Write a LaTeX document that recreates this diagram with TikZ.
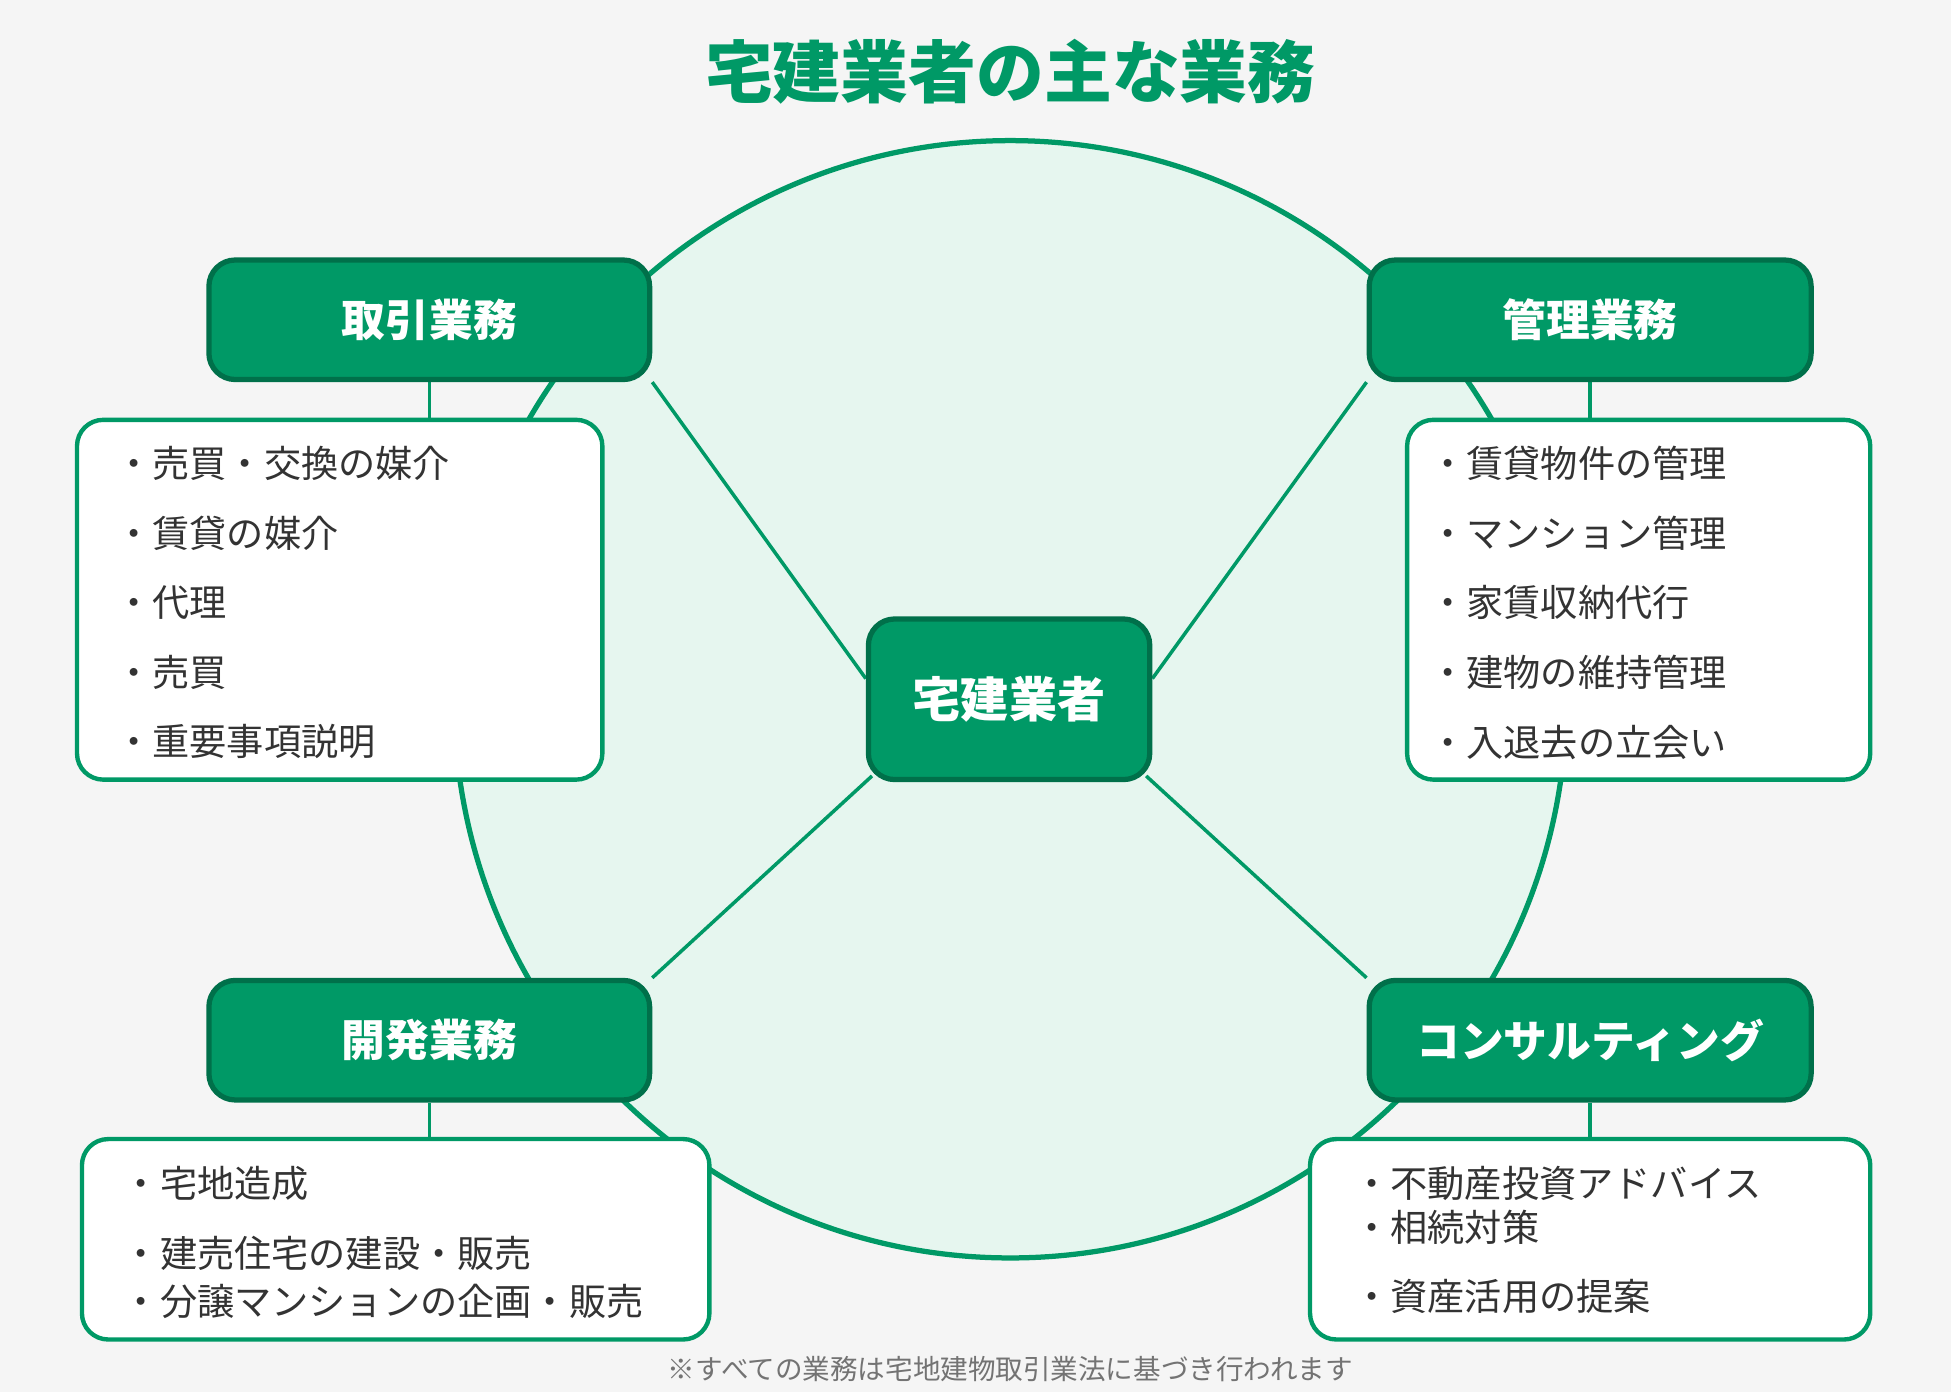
\documentclass[tikz,border=0pt]{standalone}
\usepackage{fontspec}
\setmainfont{Noto Sans CJK JP}
\usetikzlibrary{positioning,backgrounds}
\definecolor{kgreen}{HTML}{009966}
\definecolor{kdark}{HTML}{00704A}
\definecolor{kpale}{HTML}{E6F6EF}
\definecolor{kback}{HTML}{F5F5F5}
\begin{document}
\begin{tikzpicture}[x=0.01cm, y=-0.01cm,
header/.style={rectangle, rounded corners=6pt, draw=kdark, line width=1.2pt, fill=kgreen,
text=white, font=\fontsize{10}{12}\selectfont\bfseries, inner sep=0pt},
%
itembox/.style={rectangle, rounded corners=6pt, draw=kgreen, line width=1pt, fill=white},
%
items/.style={align=left, anchor=north west, inner sep=0pt,
font=\fontsize{8.5}{15.9}\selectfont, text=black!80},
%
link/.style={draw=kgreen, line width=0.8pt}]

% header boxes
\node[header, minimum width=3.54cm, minimum height=0.96cm] (torihiki) at (345,257) {取引業務};
\node[header, minimum width=3.55cm, minimum height=0.96cm] (kanri) at (1278,257) {管理業務};
\node[header, minimum width=3.54cm, minimum height=0.96cm] (kaihatsu) at (345,836) {開発業務};
\node[header, minimum width=3.55cm, minimum height=0.96cm] (consult) at (1278,836) {コンサルティング};
\node[header, minimum width=2.26cm, minimum height=1.29cm, font=\fontsize{11}{13}\selectfont\bfseries] (center) at (811,562) {宅建業者};

% list boxes
\node[itembox, minimum width=4.22cm, minimum height=2.89cm] (torihikiL) at (273,482) {};
\node[itembox, minimum width=3.72cm, minimum height=2.89cm] (kanriL) at (1317,482) {};
\node[itembox, minimum width=5.04cm, minimum height=1.61cm] (kaihatsuL) at (318,996) {};
\node[itembox, minimum width=4.50cm, minimum height=1.61cm] (consultL) at (1278,996) {};

\node[items] (torihikiT) at (92,358) {・売買・交換の媒介\\・賃貸の媒介\\・代理\\・売買\\・重要事項説明};
\node[items] (kanriT) at (1148,358) {・賃貸物件の管理\\・マンション管理\\・家賃収納代行\\・建物の維持管理\\・入退去の立会い};
\node[items] (kaihatsuT) at (98,937) {・宅地造成\\[0pt]・建売住宅の建設・販売\\[-5pt]・分譲マンションの企画・販売};
\node[items] (consultT) at (1087,937) {・不動産投資アドバイス\\[-6pt]・相続対策\\[0pt]・資産活用の提案};

\node[text=kgreen, font=\fontsize{15.5}{18}\selectfont\bfseries] (title) at (812,58) {宅建業者の主な業務};
\node[text=black!55, font=\fontsize{6.3}{8}\selectfont] (note) at (812,1100) {※すべての業務は宅地建物取引業法に基づき行われます};

% connectors
\begin{scope}[on background layer]
  \fill[kback] (0,0) rectangle (1568,1119);
  \draw[kgreen, line width=1.2pt, fill=kpale] (812,562) ellipse (447 and 449);
  %%%%%%%%%%%%%%%%%%%%%%%%%%%%%%%%%%%%
  \draw[link] (center.north west) ++(0,50) coordinate (c1);
  \draw[link] (c1) -- (torihiki.south east);
  \draw[link] (center.north east) ++(0,50) coordinate (c2);
  \draw[link] (c2) -- (kanri.south west);
  \draw[link] (center.south west) ++(5,-5) coordinate (c3);
  \draw[link] (c3) -- (kaihatsu.north east);
  \draw[link] (center.south east) ++(-5,-5) coordinate (c4);
  \draw[link] (c4) -- (consult.north west);
  %%%%%%%%%%%%%%%%%%%%%%%%%%%%%%%%%%%%
  \draw[link] (torihiki.south) -- (torihikiL.north -| torihiki.south);
  \draw[link] (kanri.south) -- (kanriL.north -| kanri.south);
  \draw[link] (kaihatsu.south) -- (kaihatsuL.north -| kaihatsu.south);
  \draw[link] (consult.south) -- (consultL.north -| consult.south);
\end{scope}
\useasboundingbox (0,0) rectangle (1568,1119);

\end{tikzpicture}
\end{document}
